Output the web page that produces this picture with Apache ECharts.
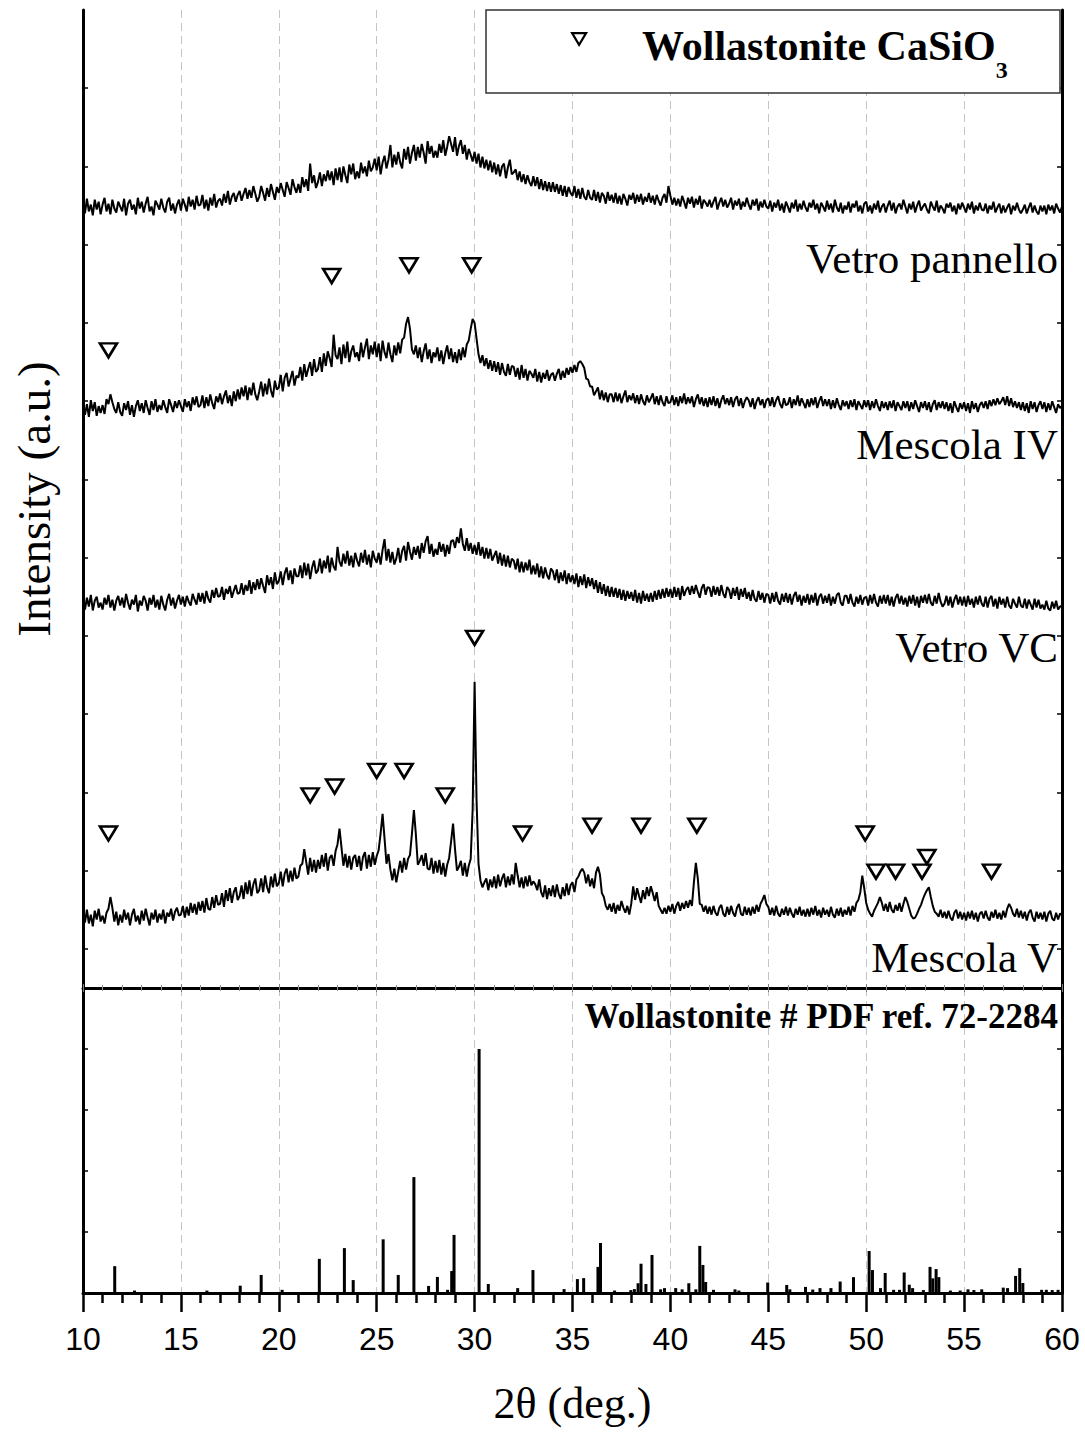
<!DOCTYPE html>
<html>
<head>
<meta charset="utf-8">
<script src="https://cdn.jsdelivr.net/npm/echarts@6/dist/echarts.min.js"></script>
<style>
  html, body { margin: 0; padding: 0; background: #fff; }
  #chart { width: 1085px; height: 1437px; }
</style>
</head>
<body>
<div id="chart"></div>
<script>
// XRD scans, 2θ from 10° to 60° in 0.1° steps (one row per degree)
const SCAN_START = 10;
const SCAN_STEP = 0.1;

const vetroPannello = [
  4,-7,8,-5,2,-9,7,-3,5,-8,
  2,9,-5,3,-8,7,-2,-6,5,0,
  -5,8,-9,3,7,-3,2,-8,9,-2,
  5,-6,3,10,-5,0,-9,6,2,-3,
  8,-1,-6,5,9,-4,3,-7,2,7,
  -4,8,2,-5,10,0,7,-3,11,1,
  2,12,-2,7,-4,9,1,13,-1,6,
  8,1,13,4,16,2,10,14,5,12,
  16,6,13,19,8,17,9,21,13,5,
  10,21,14,6,19,10,23,15,7,20,
  14,24,17,10,25,19,12,28,20,14,
  23,14,30,20,28,16,44,24,32,19,
  25,35,21,33,26,37,27,36,22,39,
  27,40,25,41,32,24,43,33,44,28,
  36,29,45,34,41,31,47,36,40,49,
  37,51,33,45,52,39,48,63,40,53,
  43,56,45,39,59,48,61,44,55,63,
  47,61,50,64,55,44,67,54,62,50,
  57,50,64,55,68,52,61,72,64,56,
  71,52,62,68,54,63,48,59,53,46,
  56,44,54,40,51,39,48,37,47,35,
  45,33,43,31,41,44,29,40,48,33,
  35,38,27,36,25,33,23,32,25,21,
  31,21,30,18,28,17,26,16,25,15,
  25,15,23,13,22,11,21,10,20,14,
  11,21,9,18,8,19,10,7,17,9,
  7,17,6,15,4,14,11,3,15,6,
  12,4,14,3,11,2,13,8,1,12,
  7,14,3,12,5,13,2,10,5,14,
  4,11,2,12,6,1,9,13,4,21,
  11,2,9,1,8,0,11,5,-2,9,
  3,10,-1,8,2,11,-2,7,4,0,
  7,-1,5,10,-3,4,9,0,7,-1,
  3,9,-3,6,1,8,-3,5,0,9,
  2,-3,7,1,8,-4,5,-1,7,0,
  -2,6,-5,4,-1,7,-4,3,-6,5,
  0,-6,4,-2,7,-5,3,-3,6,-1,
  -5,4,-1,7,-3,3,-7,4,0,-5,
  6,-3,3,-6,7,-1,-5,4,-7,1,
  -3,5,-6,3,-1,6,-5,1,-7,3,
  5,-5,1,-7,3,-3,6,-6,0,3,
  -6,1,6,-4,4,-7,0,3,-3,7,
  0,-7,3,-3,5,-6,1,6,-4,0,
  3,-3,-7,5,0,-4,6,-6,1,-2,
  -7,3,-1,4,-5,1,-8,3,-3,4,
  -1,-6,3,-3,5,-7,1,-4,4,-3,
  -4,3,-7,1,-3,5,-6,-1,3,-7,
  1,-6,-1,3,-8,1,-4,4,-3,-7,
  -3,2,-7,-1,4,-6,1,-5,-8,1,
  -5,1,-8,2,-4,1,-7,3,-2,-6,
  0
];

const mescolaIV = [
  5,-7,4,-9,8,-3,6,-8,2,-5,
  3,-6,9,4,14,6,-1,-5,6,-4,
  -8,5,-2,7,-7,3,-9,2,8,-3,
  5,-5,8,0,-7,7,-2,9,-4,3,
  -2,8,1,-5,9,3,-4,7,0,8,
  2,-4,9,1,7,-3,11,3,12,1,
  3,13,0,11,2,14,5,-1,12,6,
  15,4,12,18,5,13,2,17,7,19,
  9,21,12,23,8,21,13,26,14,8,
  17,27,12,25,14,30,18,11,28,19,
  21,34,17,31,36,22,30,38,23,33,
  31,42,28,45,32,40,47,33,50,37,
  40,52,37,56,43,58,51,42,75,54,
  50,62,45,65,51,68,47,58,64,52,
  57,48,67,52,62,71,50,64,55,68,
  52,66,48,69,57,51,67,55,47,64,
  54,67,56,70,72,86,93,81,60,55,
  64,51,62,47,58,66,50,60,46,57,
  52,62,48,59,45,56,64,50,61,47,
  57,46,60,49,62,52,65,69,81,91,
  87,71,55,46,54,43,51,40,49,38,
  48,37,47,34,46,37,33,45,34,43,
  42,32,41,29,44,31,40,28,38,35,
  31,40,27,37,26,36,30,39,28,34,
  36,28,35,40,29,38,31,41,34,42,
  36,44,37,46,48,45,41,30,29,22,
  22,13,17,21,9,18,8,16,6,14,
  14,6,16,7,15,5,12,18,6,13,
  8,15,5,13,4,14,7,3,13,6,
  10,15,4,12,3,13,6,2,12,5,
  6,13,3,11,2,12,5,15,4,11,
  5,12,1,9,14,4,11,2,10,1,
  11,3,12,2,10,0,8,13,4,10,
  3,11,1,9,12,2,10,0,7,11,
  8,1,10,-1,7,11,3,9,0,8,
  10,2,11,1,8,12,4,0,10,3,
  4,11,0,9,3,13,2,10,5,0,
  9,1,10,3,11,0,7,12,2,9,
  2,9,-1,8,0,10,3,-2,8,2,
  7,-1,8,1,9,-2,7,3,-1,8,
  1,8,-2,7,0,9,2,-3,7,0,
  6,-2,7,0,8,-3,6,2,-2,7,
  0,7,-3,6,-1,8,2,-4,6,0,
  7,-2,6,-4,4,8,-2,6,0,7,
  -1,6,-3,5,-5,7,1,-4,5,-1,
  6,-3,5,-5,7,-1,5,-4,3,6,
  0,7,-1,8,2,9,3,10,4,7,
  11,3,12,2,10,1,7,0,6,-2,
  6,-3,5,-5,7,-1,6,-4,3,7,
  -1,6,-4,5,-2,7,1,-5,4,0,
  2
];

const vetroVC = [
  4,-7,5,-4,8,-8,2,6,-5,0,
  -7,5,-2,8,-5,3,-8,2,7,-3,
  5,-5,9,0,-7,3,-2,8,-9,2,
  -3,7,2,-8,5,-2,8,-5,3,-7,
  7,-2,-8,3,9,-3,5,-6,2,8,
  -2,6,-4,7,1,-3,9,3,-2,10,
  1,10,-1,12,4,0,13,5,15,6,
  7,16,3,14,9,17,5,12,18,9,
  10,20,8,18,12,23,9,21,13,24,
  14,25,17,10,28,18,26,14,31,19,
  22,32,18,30,36,23,33,19,35,27,
  27,38,25,41,28,40,24,36,43,30,
  33,45,30,43,35,48,31,46,37,33,
  57,42,37,50,40,53,38,48,36,51,
  43,37,51,41,54,39,49,36,53,45,
  41,51,39,54,65,43,55,41,52,39,
  45,56,41,53,58,43,62,52,44,57,
  49,58,45,61,51,63,68,50,60,47,
  55,49,62,52,60,47,59,50,63,64,
  56,67,61,76,60,53,66,53,61,50,
  59,49,62,48,57,45,56,45,55,43,
  48,53,40,51,38,49,37,48,36,45,
  43,34,45,31,42,31,41,33,44,29,
  38,29,40,26,37,25,36,28,24,35,
  32,23,34,20,31,22,33,19,30,21,
  28,19,30,16,27,18,29,15,26,17,
  25,14,23,10,21,9,19,7,17,6,
  16,6,15,5,14,3,13,2,12,4,
  11,2,13,0,10,-1,12,2,9,1,
  10,1,12,3,13,4,14,5,15,6,
  14,5,16,6,15,3,17,7,13,16,
  8,17,9,18,11,5,15,19,8,16,
  15,6,17,8,16,7,18,9,5,16,
  13,4,15,7,16,3,14,6,15,4,
  11,2,13,4,1,12,3,10,0,9,
  8,-1,10,1,11,2,-2,9,1,10,
  0,9,-2,7,11,1,8,-3,7,0,
  9,-2,8,0,10,-3,6,9,-1,7,
  0,9,-3,6,-1,8,10,0,-3,7,
  7,-1,9,0,-4,6,-1,8,-2,5,
  6,-3,8,-1,9,0,-4,7,-1,8,
  -1,8,-3,6,-4,5,9,-1,7,-2,
  5,-4,7,-1,8,-3,6,-5,7,0,
  8,-1,9,0,-3,7,-1,10,1,-4,
  -1,7,-3,6,-5,3,8,-2,6,-3,
  6,-4,7,-2,4,-5,6,-2,7,-1,
  -4,6,-5,4,7,-4,4,-6,6,-2,
  4,-5,6,-3,-6,4,-1,-5,6,-3,
  -5,4,-6,3,-2,-7,4,-5,3,-6,
  -2,-7,2,-6,-8,1,-6,2,-7,-4,
  -3
];

const mescolaV = [
  5,-5,8,-6,3,-9,7,-2,9,-4,
  2,-6,5,9,21,10,-4,6,-8,3,
  -5,8,-2,5,-8,3,9,-4,2,-7,
  7,-3,9,0,-8,5,-2,8,-5,4,
  -2,8,-6,5,1,9,-3,6,10,2,
  3,12,0,11,2,15,5,14,3,16,
  7,17,5,20,9,8,21,10,23,13,
  14,25,11,28,17,30,15,26,31,18,
  22,33,19,36,24,38,22,34,40,25,
  28,40,26,43,31,25,42,31,45,32,
  35,47,32,45,50,36,48,37,51,40,
  42,53,55,70,57,44,61,47,59,46,
  59,50,64,52,66,48,61,64,53,68,
  75,91,72,53,65,51,63,49,61,64,
  52,63,48,62,67,50,64,52,67,54,
  63,69,86,106,81,55,65,49,38,50,
  36,47,58,46,61,49,60,64,86,110,
  85,54,58,64,53,66,50,49,61,45,
  58,46,59,44,56,42,54,61,78,96,
  70,48,52,58,43,56,42,53,60,110,
  241,120,55,38,31,36,40,28,39,31,
  42,30,44,32,40,45,31,42,33,44,
  34,56,43,31,41,30,42,32,43,33,
  37,34,28,39,26,21,33,19,30,22,
  33,21,34,24,19,31,22,35,23,33,
  36,26,39,42,47,50,46,35,44,32,
  40,30,46,52,44,25,21,12,8,14,
  6,15,4,13,7,17,10,5,12,3,
  14,32,18,30,22,15,28,19,31,22,
  32,25,17,26,12,8,4,10,4,12,
  6,14,4,12,16,7,15,9,17,10,
  18,12,36,56,40,14,13,6,12,4,
  11,3,12,5,2,10,13,4,1,11,
  3,12,5,1,10,14,4,2,11,3,
  10,2,11,4,13,6,14,18,23,14,
  11,3,10,2,12,4,1,9,3,11,
  2,10,4,0,9,3,11,2,8,1,
  9,1,10,3,12,2,8,0,10,3,
  8,1,11,3,0,9,2,10,1,8,
  3,11,2,12,6,15,18,26,43,30,
  15,8,4,1,7,11,15,21,15,7,
  14,6,16,8,5,13,7,15,6,14,
  21,16,9,2,-1,0,4,9,13,19,
  24,28,31,21,12,6,4,1,8,0,
  6,-1,7,0,-3,5,8,-1,6,-2,
  5,-3,6,-1,7,-2,5,-4,4,6,
  -1,7,0,-3,6,0,8,-1,5,-2,
  7,0,9,14,10,4,1,9,0,7,
  -1,6,-3,5,8,0,-4,6,-1,5,
  -2,6,-4,4,7,-1,-3,5,-2,4,
  3
];

// vertical stacking offsets of the four patterns (a.u.)
const traceOffsets = [799, 593, 394, 72];
const traceNames = ['Vetro pannello', 'Mescola IV', 'Vetro VC', 'Mescola V'];

// wollastonite reflections marked above the patterns: [2θ, height (a.u.)]
const markersMescolaIV = [[11.3, 652], [22.7, 728], [26.65, 739], [29.85, 739]];
const markersMescolaV = [
  [11.3, 158], [21.6, 197], [22.85, 206], [25.0, 222], [26.4, 222], [28.5, 197],
  [30.0, 358], [32.45, 158], [36.0, 166], [38.5, 166], [41.35, 166],
  [49.95, 158], [50.5, 119], [51.5, 119], [52.85, 119], [53.1, 134], [56.4, 119]
];

// Wollastonite PDF 72-2284 reference lines: [2θ, relative intensity]
const pdfLines = [
  [11.62, 11], [12.63, 1], [16.33, 1], [18.03, 3], [19.1, 7.4], [20.17, 1.3],
  [22.07, 14], [23.35, 18.4], [23.8, 5.3], [25.33, 22], [26.1, 7.4], [26.9, 47.5],
  [27.65, 2.9], [28.1, 6.6], [28.62, 1.3], [28.83, 9], [28.95, 23.8], [30.23, 100],
  [30.7, 3.7], [32.2, 2], [32.98, 9.4], [34.57, 1.6], [35.25, 5.7], [35.57, 6.1],
  [36.3, 10.7], [36.43, 20.5], [37.15, 1], [37.98, 1.2], [38.16, 1.6], [38.35, 4],
  [38.5, 12], [38.75, 3.7], [39.06, 15.6], [39.5, 1.5], [39.7, 2], [40.27, 2],
  [40.6, 1.5], [40.94, 4], [41.3, 1.5], [41.5, 19.3], [41.66, 11.5], [41.8, 4.5],
  [42.2, 1.3], [43.3, 1.5], [43.5, 1], [44.97, 4.3], [45.94, 3.3], [46.1, 1.5],
  [46.9, 2.5], [47.27, 1.4], [47.64, 2], [48.2, 2], [48.67, 4.7], [49.35, 6.5],
  [50.15, 17.2], [50.32, 9.4], [50.73, 2], [50.97, 8.2], [51.4, 1.3], [51.7, 1.3],
  [51.94, 8.4], [52.2, 3.4], [52.37, 2], [52.92, 1.2], [53.26, 10.7], [53.4, 6],
  [53.57, 9.8], [53.71, 6.5], [54.3, 1], [54.8, 1], [55.2, 1.5], [55.5, 1.2],
  [55.9, 1.5], [57.0, 2.2], [57.22, 2], [57.63, 7], [57.84, 10.2], [58.0, 4.1],
  [58.96, 1.3], [59.2, 1.3], [59.5, 1.2], [59.8, 1.3]
];

const xTickLabels = [10, 15, 20, 25, 30, 35, 40, 45, 50, 55, 60];
const stackTicks = [40, 120, 200, 280, 360, 440, 520, 600, 680, 760, 840, 920];

const SERIF = '"Liberation Serif", "Times New Roman", serif';
const SANS = '"Liberation Sans", Arial, sans-serif';

function toPairs(values, offset) {
  return values.map((v, i) => [+(SCAN_START + i * SCAN_STEP).toFixed(2), offset + v]);
}

const scans = [vetroPannello, mescolaIV, vetroVC, mescolaV];

const frameLine = { show: true, lineStyle: { color: '#000', width: 3 } };
const dashed = { show: true, lineStyle: { color: '#c4c4c4', width: 1, type: [8, 5] } };
const innerTick = { show: true, inside: true, length: 4, lineStyle: { color: '#808080', width: 1 } };

const xMin = xTickLabels[0], xMax = xTickLabels[xTickLabels.length - 1];

const chart = echarts.init(document.getElementById('chart'), null, { renderer: 'svg' });

const option = {
  animation: false,
  backgroundColor: '#fff',
  grid: [
    { left: 83, top: 10, width: 979, height: 978 },
    { left: 83, top: 988, width: 979, height: 305 }
  ],
  xAxis: [
    {
      gridIndex: 0, type: 'value', min: xMin, max: xMax, interval: 5, position: 'bottom',
      axisLine: frameLine, axisTick: innerTick,
      minorTick: { show: true, splitNumber: 5, length: 3, lineStyle: { color: '#909090', width: 1 } },
      axisLabel: { show: false }, splitLine: dashed
    },
    {
      gridIndex: 0, type: 'value', min: xMin, max: xMax, interval: 5, position: 'top',
      axisLine: { show: true, lineStyle: { color: '#000', width: 2 } }, axisTick: innerTick,
      minorTick: { show: true, splitNumber: 5, length: 3, lineStyle: { color: '#909090', width: 1 } },
      axisLabel: { show: false }, splitLine: { show: false }
    },
    {
      gridIndex: 1, type: 'value', min: xMin, max: xMax, interval: 5, position: 'bottom',
      axisLine: frameLine,
      axisTick: { show: true, inside: false, length: 19, lineStyle: { color: '#000', width: 2.5 } },
      minorTick: { show: true, splitNumber: 5, length: 10, lineStyle: { color: '#000', width: 2.5 } },
      axisLabel: { show: true, margin: 30, color: '#000', fontSize: 32, fontFamily: SANS },
      splitLine: dashed,
      name: '2θ (deg.)', nameLocation: 'middle', nameGap: 88,
      nameTextStyle: { color: '#000', fontSize: 44, fontFamily: SERIF }
    }
  ],
  yAxis: [
    {
      gridIndex: 0, type: 'value', min: 0, max: 1000, position: 'left',
      axisLine: frameLine,
      axisTick: { show: true, inside: true, length: 5, customValues: stackTicks, lineStyle: { color: '#000', width: 1.5 } },
      axisLabel: { show: false }, splitLine: { show: false },
      name: 'Intensity (a.u.)', nameLocation: 'middle', nameGap: 26,
      nameTextStyle: { color: '#000', fontSize: 47, fontFamily: SERIF }
    },
    {
      gridIndex: 0, type: 'value', min: 0, max: 1000, position: 'right',
      axisLine: frameLine,
      axisTick: { show: true, inside: true, length: 5, customValues: stackTicks, lineStyle: { color: '#000', width: 1.5 } },
      axisLabel: { show: false }, splitLine: { show: false }
    },
    {
      gridIndex: 1, type: 'value', min: 0, max: 125, interval: 25, position: 'left',
      axisLine: frameLine,
      axisTick: { show: true, inside: true, length: 5, lineStyle: { color: '#000', width: 1.5 } },
      axisLabel: { show: false }, splitLine: { show: false }
    },
    {
      gridIndex: 1, type: 'value', min: 0, max: 125, interval: 25, position: 'right',
      axisLine: frameLine,
      axisTick: { show: true, inside: true, length: 5, lineStyle: { color: '#000', width: 1.5 } },
      axisLabel: { show: false }, splitLine: { show: false }
    }
  ],
  legend: {
    data: ['Wollastonite CaSiO3'],
    left: 571, top: 18, padding: 0, z: 10,
    selectedMode: false,
    itemWidth: 14, itemHeight: 12,
    icon: 'path://M0,0L12,0L6,10Z',
    itemStyle: { color: '#fff', borderColor: '#000', borderWidth: 2.2 },
    formatter: () => '{sp| }{t|Wollastonite CaSiO}{s|3}',
    textStyle: {
      color: '#000',
      rich: {
        sp: { width: 51, fontSize: 10 },
        t: { fontFamily: SERIF, fontWeight: 'bold', fontSize: 42, lineHeight: 42, padding: [7, 0, 0, 0], verticalAlign: 'top', color: '#000' },
        s: { fontFamily: SERIF, fontWeight: 'bold', fontSize: 24, lineHeight: 24, padding: [40, 0, 0, 0], verticalAlign: 'top', color: '#000' }
      }
    }
  },
  graphic: [
    { type: 'rect', z: 5, shape: { x: 486, y: 10, width: 574, height: 83 },
      style: { fill: '#fff', stroke: '#333', lineWidth: 1.5 } },
    { type: 'text', z: 10, x: 1058, y: 258,
      style: { text: traceNames[0], font: '43px ' + SERIF, fill: '#000', align: 'right', verticalAlign: 'middle' } },
    { type: 'text', z: 10, x: 1058, y: 444,
      style: { text: traceNames[1], font: '43px ' + SERIF, fill: '#000', align: 'right', verticalAlign: 'middle' } },
    { type: 'text', z: 10, x: 1058, y: 647,
      style: { text: traceNames[2], font: '43px ' + SERIF, fill: '#000', align: 'right', verticalAlign: 'middle' } },
    { type: 'text', z: 10, x: 1058, y: 957,
      style: { text: traceNames[3], font: '43px ' + SERIF, fill: '#000', align: 'right', verticalAlign: 'middle' } },
    { type: 'text', z: 10, x: 1058, y: 1016,
      style: { text: 'Wollastonite # PDF ref. 72-2284', font: 'bold 35px ' + SERIF, fill: '#000', align: 'right', verticalAlign: 'middle' } }
  ],
  series: [
    ...scans.map((values, k) => ({
      name: traceNames[k], type: 'line', xAxisIndex: 0, yAxisIndex: 0,
      data: toPairs(values, traceOffsets[k]),
      showSymbol: false, symbol: 'none', silent: true,
      lineStyle: { color: '#000', width: 2 }
    })),
    ...[markersMescolaIV, markersMescolaV].map(points => ({
      name: 'Wollastonite CaSiO3', type: 'scatter', xAxisIndex: 0, yAxisIndex: 0,
      data: points, symbol: 'triangle', symbolRotate: 180, symbolSize: [17, 14], silent: true, z: 4,
      itemStyle: { color: '#fff', borderColor: '#000', borderWidth: 2.6, opacity: 1 }
    })),
    {
      name: 'PDF 72-2284', type: 'bar', xAxisIndex: 2, yAxisIndex: 2,
      data: pdfLines, barWidth: 3, silent: true,
      itemStyle: { color: '#000' }
    }
  ]
};

chart.setOption(option);
</script>
</body>
</html>
